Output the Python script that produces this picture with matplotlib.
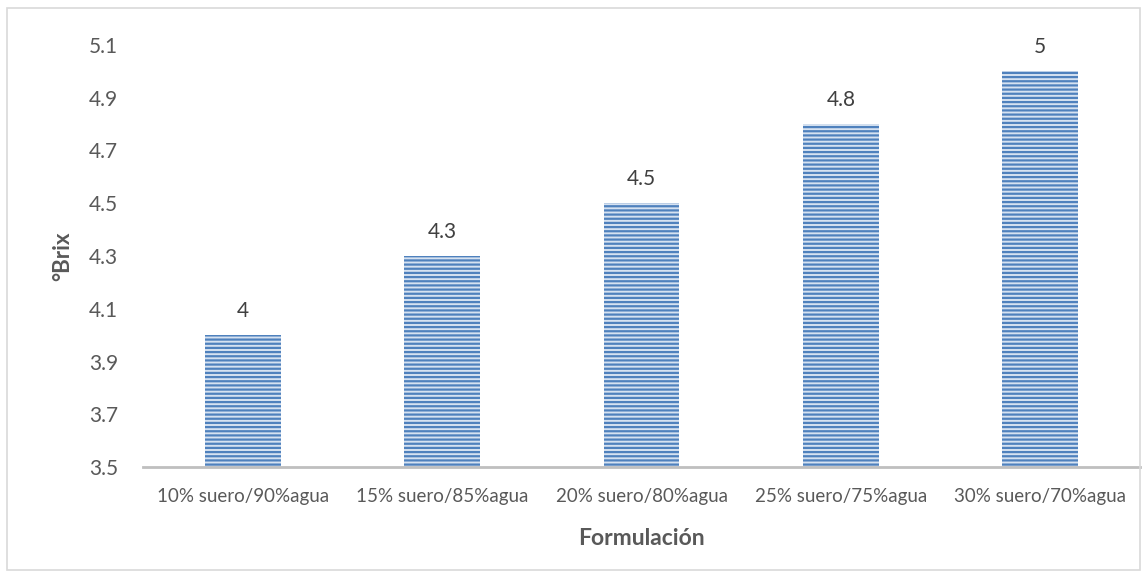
import matplotlib.pyplot as plt
from matplotlib.patches import Rectangle

formulaciones = ['10% suero/90%agua', '15% suero/85%agua', '20% suero/80%agua',
                 '25% suero/75%agua', '30% suero/70%agua']
brix = [4.0, 4.3, 4.5, 4.8, 5.0]
yticks = [3.5, 3.7, 3.9, 4.1, 4.3, 4.5, 4.7, 4.9, 5.1]

plt.rcParams['font.family'] = ['Lato', 'DejaVu Sans']
plt.rcParams['hatch.linewidth'] = 1.6
plt.rcParams['hatch.color'] = '#4f81bd'

fig = plt.figure(figsize=(11.46, 5.78), dpi=100)
ax = fig.add_axes([143 / 1146, 1 - 467 / 578, (1140 - 143) / 1146, (467 - 45) / 578])

x = range(len(formulaciones))
bars = ax.bar(x, brix, width=0.38, color='#d6e2f1', hatch='----',
              edgecolor='#4f81bd', linewidth=0)

for xi, v in zip(x, brix):
    ax.annotate(f'{v:g}', (xi, v), xytext=(0, 10), textcoords='offset points',
                ha='center', va='bottom', fontsize=15, color='#404040')

ax.set_ylim(3.5, 5.1)
ax.set_xlim(-0.5, 4.5)
ax.set_yticks(yticks)
ax.set_yticklabels([f'{t:.1f}' for t in yticks])
ax.set_xticks(list(x))
ax.set_xticklabels(formulaciones)
ax.tick_params(axis='y', length=0, pad=18, labelsize=15, labelcolor='#595959')
ax.tick_params(axis='x', length=0, pad=15, labelsize=13.5, labelcolor='#595959')

for side in ['top', 'right', 'left']:
    ax.spines[side].set_visible(False)
ax.spines['bottom'].set_color('#bfbfbf')
ax.spines['bottom'].set_linewidth(2)

ax.set_xlabel('Formulación', fontsize=16.5, fontweight='bold', color='#595959', labelpad=17)
ax.set_ylabel('°Brix', fontsize=16, fontweight='bold', color='#595959', labelpad=11)

# marco exterior del gráfico
fig.patches.append(Rectangle((7 / 1146, 8 / 578), 1133 / 1146, 562 / 578,
                             transform=fig.transFigure, fill=False,
                             edgecolor='#d9d9d9', linewidth=1.2))

fig.savefig('out.png', dpi=100)
